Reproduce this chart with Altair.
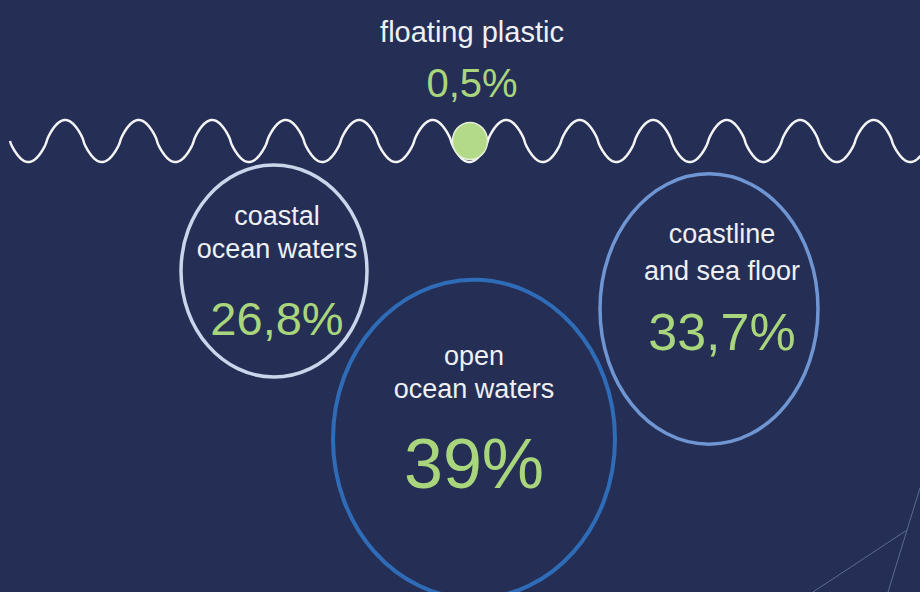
import altair as alt
import pandas as pd
import numpy as np

# ---- data ----
categories = ["floating plastic", "coastal ocean waters", "open ocean waters", "coastline and sea floor"]
label_lines = [["floating plastic"], ["coastal", "ocean waters"], ["open", "ocean waters"], ["coastline", "and sea floor"]]
shares = [0.5, 26.8, 39.0, 33.7]

# ---- layout (pixel space) ----
W, H = 920, 592
bubble_cx = [470, 274, 474, 709]
bubble_cy = [141, 271, 439, 309]
bubble_rx = [17.5, 93, 141, 109]
bubble_ratio = [1.06, 1.14, 1.13, 1.24]
bubble_fill = ["#b3da88", "transparent", "transparent", "transparent"]
bubble_stroke = ["#e4eed6", "#c9d5ea", "#2f6cb8", "#6f96d2"]
bubble_sw = [1.5, 3.5, 4, 3.5]

text_cx = [472, 277, 474, 722]
line_baselines = [[42], [225, 258], [365, 398], [243, 280]]
label_size = [29, 27, 27, 27]
value_baseline = [97, 335, 488, 350]
value_size = [40, 47, 70, 52]

# wave decoration
wave_start, wave_end, wave_mid, wave_amp, wave_period, wave_round = 10, 920, 141, 21, 73.5, 0.8

# corner decor segments
deco_x = [813, 907, 907]
deco_y = [592, 530, 530]
deco_x2 = [907, 920, 888]
deco_y2 = [530, 488, 592]

BG = "#252f56"
WHITE = "#eef0f3"
GREEN = "#a9d67c"
FONT = "Liberation Sans, Arial, sans-serif"

xs = alt.Scale(domain=[0, W])
ys = alt.Scale(domain=[0, H], reverse=True)


def fmt(v):
    s = f"{v:.1f}".rstrip("0").rstrip(".")
    return s.replace(".", ",") + "%"


# wave
wx = np.arange(wave_start, wave_end + 1, 0.5)
ph = np.sin(2 * np.pi * (wx - wave_start) / wave_period)
wy = wave_mid + wave_amp * np.sign(ph) * np.abs(ph) ** wave_round
wave_df = pd.DataFrame({"x": wx, "y": wy})
wave = alt.Chart(wave_df).mark_line(color="#f4f4f4", strokeWidth=2.5).encode(
    x=alt.X("x:Q", scale=xs, axis=None),
    y=alt.Y("y:Q", scale=ys, axis=None),
    order="x:Q",
)

# bubbles (ellipses through custom symbol path)
def ell(k):
    return f"M -1 0 A 1 {k} 0 1 1 1 0 A 1 {k} 0 1 1 -1 0 Z"

bub_df = pd.DataFrame({
    "category": categories,
    "share": shares,
    "x": bubble_cx,
    "y": bubble_cy,
    "size": [4 * r * r for r in bubble_rx],
    "shape": [ell(k) for k in bubble_ratio],
    "fill": bubble_fill,
    "stroke": bubble_stroke,
    "sw": bubble_sw,
})
bubbles = alt.Chart(bub_df).mark_point(filled=False, opacity=1).encode(
    x=alt.X("x:Q", scale=xs, axis=None),
    y=alt.Y("y:Q", scale=ys, axis=None),
    size=alt.Size("size:Q", scale=None, legend=None),
    shape=alt.Shape("shape:N", scale=None, legend=None),
    fill=alt.Fill("fill:N", scale=None, legend=None),
    stroke=alt.Stroke("stroke:N", scale=None, legend=None),
    strokeWidth=alt.StrokeWidth("sw:Q", scale=None, legend=None),
)

# text rows
rows = []
for i, cat in enumerate(categories):
    for line, yb in zip(label_lines[i], line_baselines[i]):
        rows.append({"t": line, "x": text_cx[i], "y": yb, "fs": label_size[i], "c": WHITE})
    rows.append({"t": fmt(shares[i]), "x": text_cx[i], "y": value_baseline[i], "fs": value_size[i], "c": GREEN})
txt_df = pd.DataFrame(rows)
texts = alt.Chart(txt_df).mark_text(font=FONT, align="center", baseline="alphabetic").encode(
    x=alt.X("x:Q", scale=xs, axis=None),
    y=alt.Y("y:Q", scale=ys, axis=None),
    text="t:N",
    size=alt.Size("fs:Q", scale=None, legend=None),
    color=alt.Color("c:N", scale=None, legend=None),
)

deco_df = pd.DataFrame({"x": deco_x, "y": deco_y, "x2": deco_x2, "y2": deco_y2})
deco = alt.Chart(deco_df).mark_rule(color="#5a6b92", strokeWidth=1).encode(
    x=alt.X("x:Q", scale=xs, axis=None),
    y=alt.Y("y:Q", scale=ys, axis=None),
    x2="x2:Q",
    y2="y2:Q",
)

chart = alt.layer(deco, wave, bubbles, texts).properties(
    width=W, height=H, background=BG, padding=0, autosize="none"
).configure_view(stroke=None)

chart.save("out.html", embed_options={"renderer": "svg", "actions": False})
